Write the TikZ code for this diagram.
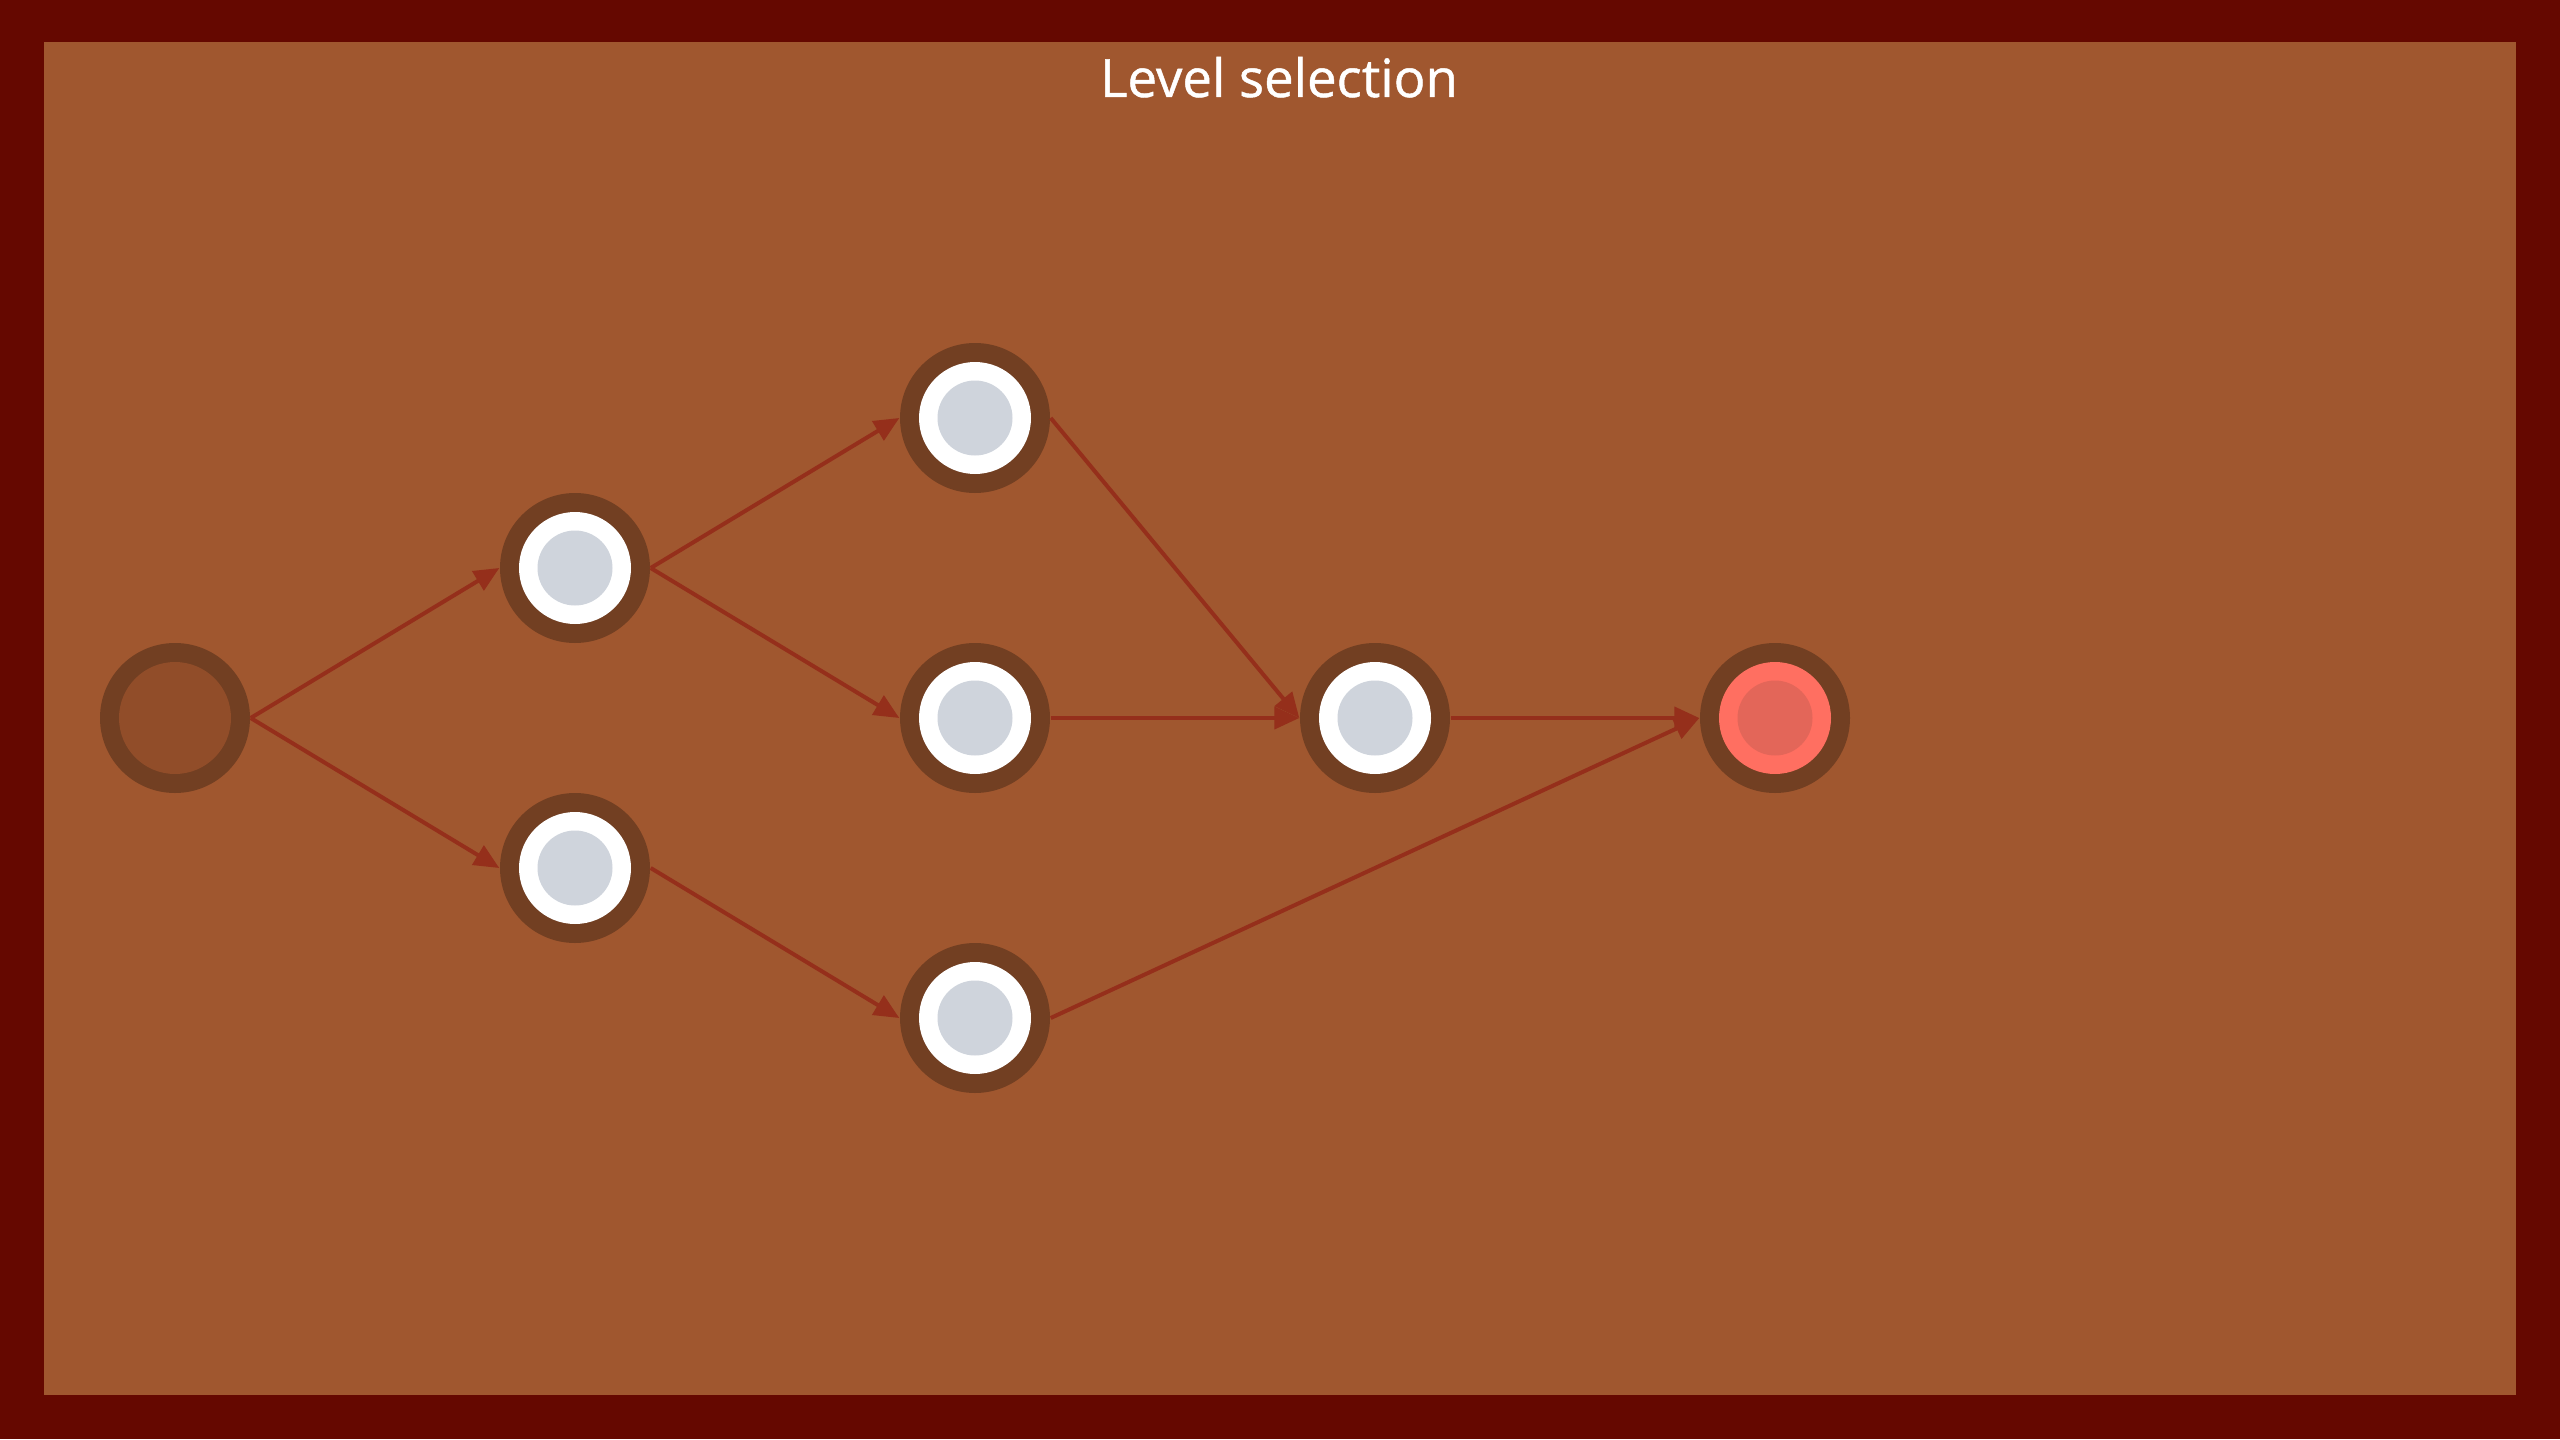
\documentclass[tikz,border=0pt]{standalone}
\usepackage{fontspec}
\setmainfont{Open Sans}
\newfontfamily\titlefont[FakeBold=0.9]{Open Sans}
\usetikzlibrary{arrows.meta}
\definecolor{frame}{HTML}{650800}
\definecolor{bg}{HTML}{A0572F}
\definecolor{ring}{HTML}{723F22}
\definecolor{startfill}{HTML}{914D29}
\definecolor{levgray}{HTML}{CFD4DC}
\definecolor{redout}{HTML}{FF6F61}
\definecolor{redin}{HTML}{E36659}
\definecolor{arrowc}{HTML}{952F1B}
\tikzset{
  lvbase/.style={circle, minimum size=1.5cm, inner sep=0pt, fill=ring},
  startnode/.style={lvbase, path picture={\fill[startfill] (path picture bounding box.center) circle (0.56);}},
  levelnode/.style={lvbase, path picture={\fill[white] (path picture bounding box.center) circle (0.56);
      \fill[levgray] (path picture bounding box.center) circle (0.375);}},
  goalnode/.style={lvbase, path picture={\fill[redout] (path picture bounding box.center) circle (0.56);
      \fill[redin] (path picture bounding box.center) circle (0.375);}},
  arr/.style={draw=arrowc, line width=0.04cm, -{Triangle[length=0.25cm, width=0.22cm]}}
}
\begin{document}
\begin{tikzpicture}
\useasboundingbox (0,0) rectangle (25.6,14.39);
\fill[frame] (0,0) rectangle (25.6,14.39);
\fill[bg] (0.44,0.44) rectangle (25.16,13.97);
\node[text=white, font=\titlefont\fontsize{15pt}{18pt}\selectfont, anchor=base] (title) at (12.79,13.42) {Level selection};
\node[startnode] (s) at (1.75,7.21) {};
\node[levelnode] (a) at (5.75,8.71) {};
\node[levelnode] (b) at (5.75,5.71) {};
\node[levelnode] (c) at (9.75,10.21) {};
\node[levelnode] (d) at (9.75,7.21) {};
\node[levelnode] (e) at (9.75,4.21) {};
\node[levelnode] (f) at (13.75,7.21) {};
\node[goalnode] (g) at (17.75,7.21) {};
\draw[arr] (s.east) -- (a.west);
\draw[arr] (s.east) -- (b.west);
\draw[arr] (a.east) -- (c.west);
\draw[arr] (a.east) -- (d.west);
\draw[arr] (b.east) -- (e.west);
\draw[arr] (c.east) -- (f.west);
\draw[arr] (d.east) -- (f.west);
\draw[arr] (f.east) -- (g.west);
\draw[arr] (e.east) -- (g.west);
\end{tikzpicture}
\end{document}
